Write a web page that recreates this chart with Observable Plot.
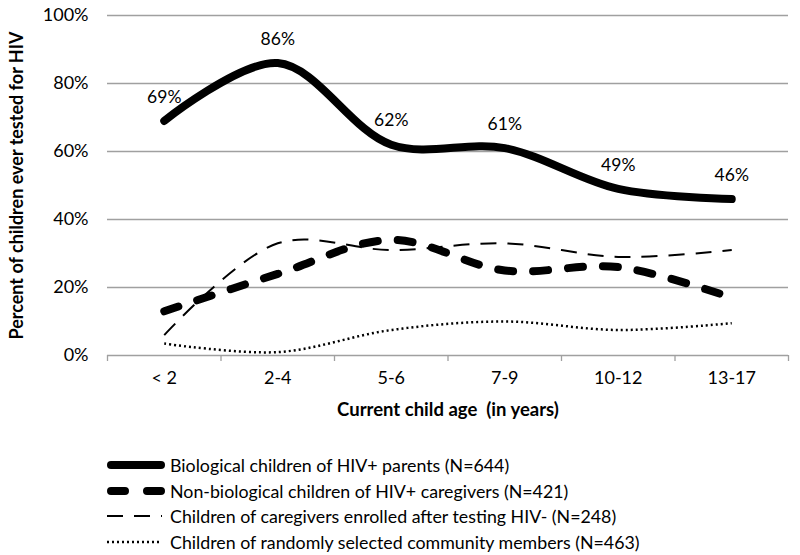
<!DOCTYPE html>
<html><head><meta charset="utf-8">
<script src="https://cdn.jsdelivr.net/npm/d3@7"></script>
<script src="https://cdn.jsdelivr.net/npm/@observablehq/plot@0.6"></script>
<style>
body{margin:0;background:#fff;font-family:Lato,sans-serif;color:#000;}
#legend{padding-top:22px;}
.row{display:flex;align-items:center;height:25.7px;margin-left:107px;font-size:17.8px;}
.row svg{margin-right:5px;}
</style></head><body><div id="chart"></div><div id="legend"></div>
<script>
const ages = ["< 2", "2-4", "5-6", "7-9", "10-12", "13-17"];
const biological = [69, 86, 62, 61, 49, 46];
const nonBiological = [13, 24, 34, 25, 26, 17];
const caregiversNeg = [6, 33, 31, 33, 29, 31];
const community = [3.5, 1, 7.5, 10, 7.5, 9.5];
const seriesNames = [
  "Biological children of HIV+ parents (N=644)",
  "Non-biological children of HIV+ caregivers (N=421)",
  "Children of caregivers enrolled after testing HIV- (N=248)",
  "Children of randomly selected community members (N=463)"
];
const yTicks = [0, 20, 40, 60, 80, 100];

const styles = [
  {stroke: "#000", strokeWidth: 8, strokeDasharray: null, strokeLinecap: "round"},
  {stroke: "#000", strokeWidth: 8, strokeDasharray: "15,20", strokeLinecap: "round"},
  {stroke: "#000", strokeWidth: 2, strokeDasharray: "16,11", strokeLinecap: "butt"},
  {stroke: "#000", strokeWidth: 2.5, strokeDasharray: "2,3", strokeLinecap: "butt"}
];
const allSeries = [biological, nonBiological, caregiversNeg, community];
const toRows = (vals) => vals.map((v, i) => ({x: i + 0.5, y: v, age: ages[i]}));

const lineMarks = allSeries.slice().reverse().map((vals, k) => {
  const s = styles[3 - k];
  const o = {x: "x", y: "y", curve: "catmull-rom", stroke: s.stroke, strokeWidth: s.strokeWidth, strokeLinecap: s.strokeLinecap, strokeLinejoin: "round"};
  if (s.strokeDasharray) o.strokeDasharray = s.strokeDasharray;
  return Plot.line(toRows(vals), o);
});

const plot = Plot.plot({
  width: 800,
  height: 430,
  marginLeft: 107,
  marginRight: 12,
  marginTop: 15,
  marginBottom: 75,
  style: {fontFamily: "Lato, sans-serif", fontSize: "18px", color: "#000", background: "#fff"},
  x: {domain: [0, 6], axis: null},
  y: {domain: [0, 100], axis: null},
  marks: [
    Plot.ruleY(yTicks, {stroke: "#a0a0a0", strokeWidth: 1.3}),
    Plot.axisY({ticks: yTicks, tickSize: 0, tickPadding: 19, tickFormat: d => d + "%", label: null, fontSize: 18}),
    Plot.axisX({ticks: d3.range(0, 7), tickSize: 6, tickFormat: () => "", stroke: "#a0a0a0", label: null, strokeWidth: 1.3}),
    Plot.axisX({ticks: ages.map((a, i) => i + 0.5), tickSize: 0, tickPadding: 16, tickFormat: v => ages[Math.round(v - 0.5)], label: null, fontSize: 18}),
    ...lineMarks,
    Plot.text(toRows(biological), {x: "x", y: "y", text: d => d.y + "%", dy: -24, fontSize: 17.5, fill: "#000"}),
    Plot.text(["Current child age\u00a0 (in years)"], {frameAnchor: "bottom", dy: 60, fontWeight: "bold", fontSize: 18.5, fill: "#000"}),
    Plot.text(["Percent of children ever tested for HIV"], {frameAnchor: "left", textAnchor: "middle", dx: -90, rotate: -90, fontWeight: "bold", fontSize: 18, fill: "#000"})
  ]
});
document.getElementById("chart").appendChild(plot);

const legend = d3.select("#legend");
seriesNames.forEach((name, i) => {
  const s = styles[i];
  const row = legend.append("div").attr("class", "row");
  const svg = row.append("svg").attr("width", 58).attr("height", 14);
  const ln = svg.append("line").attr("x1", 4).attr("x2", 54).attr("y1", 7).attr("y2", 7)
    .attr("stroke", s.stroke).attr("stroke-width", s.strokeWidth).attr("stroke-linecap", s.strokeLinecap);
  if (i === 1) ln.attr("stroke-dasharray", "14,22");
  else if (s.strokeDasharray) ln.attr("stroke-dasharray", s.strokeDasharray);
  if (i >= 2) ln.attr("x1", 0).attr("x2", 55);
  row.append("span").text(name);
});
</script>
</body></html>
